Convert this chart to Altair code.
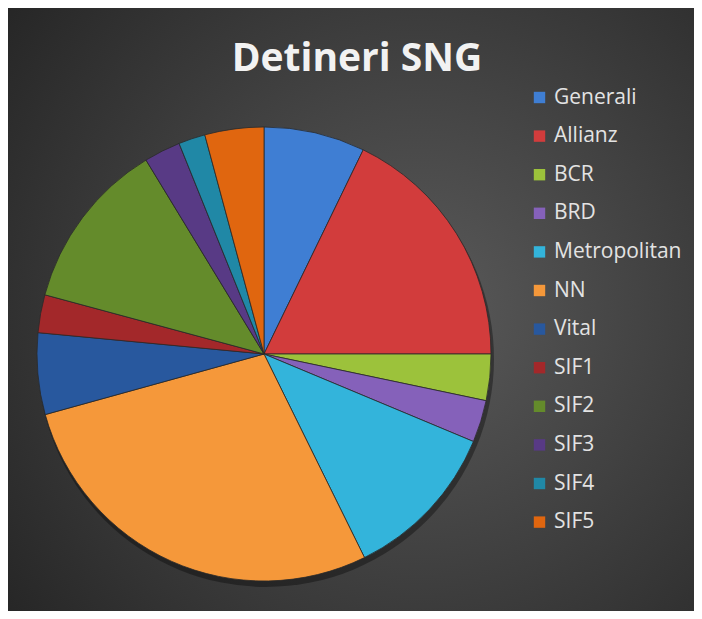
import altair as alt
import pandas as pd

names = ["Generali", "Allianz", "BCR", "BRD", "Metropolitan", "NN", "Vital",
         "SIF1", "SIF2", "SIF3", "SIF4", "SIF5"]
values = [7.2, 17.8, 3.3, 3.0, 11.4, 28.0, 5.8, 2.7, 12.1, 2.6, 1.9, 4.2]
colors = ["#3F7ED3", "#D23C3C", "#9CC23B", "#8561BA", "#33B4DB", "#F5983A",
          "#28589E", "#A3282A", "#648B2B", "#583A85", "#2088A6", "#E0660F"]
title_text = "Detineri SNG"

df = pd.DataFrame({"name": names, "value": values, "idx": list(range(len(names)))})
one = pd.DataFrame({"a": [0]})

W, H = 686, 603
CX, CY, R = 256, 346, 227

bg = alt.Chart(one).mark_rect(
    fill={"gradient": "radial",
          "stops": [{"offset": 0, "color": "#5a5a5a"},
                    {"offset": 1, "color": "#262626"}],
          "x1": 0.6, "y1": 0.5, "x2": 0.6, "y2": 0.5, "r1": 0, "r2": 0.75}
).encode(x=alt.value(0), x2=alt.value(W), y=alt.value(0), y2=alt.value(H))

shadow = alt.Chart(one).mark_arc(
    radius=R + 1, theta=0, theta2=6.2832, fill="#000000", opacity=0.35
).encode(x=alt.value(CX + 2), y=alt.value(CY + 5))

pie = alt.Chart(df).mark_arc(
    outerRadius=R, stroke="#2a2a2a", strokeWidth=0.8
).encode(
    theta=alt.Theta("value:Q", stack=True),
    order=alt.Order("idx:Q"),
    color=alt.Color(
        "name:N",
        scale=alt.Scale(domain=names, range=colors),
        sort=names,
        legend=alt.Legend(
            orient="none", legendX=521, legendY=79, title=None,
            symbolType="square", symbolSize=130, symbolStrokeWidth=0,
            labelFont="Open Sans", labelFontSize=21, labelColor="#E3E3E3",
            rowPadding=16.6, labelOffset=4, padding=0, labelLimit=300,
        ),
    ),
    x=alt.value(CX),
    y=alt.value(CY),
)

title = alt.Chart(one).mark_text(
    text=title_text, font="Open Sans", fontSize=39, fontWeight="bold",
    color="#F2F2F2", align="center", baseline="alphabetic"
).encode(x=alt.value(349), y=alt.value(63))

chart = alt.layer(bg, shadow, pie, title).properties(
    width=W, height=H, padding=0, autosize="none", background="white"
).configure_view(stroke=None)

chart.save("out.html", embed_options={"renderer": "svg", "actions": False})
